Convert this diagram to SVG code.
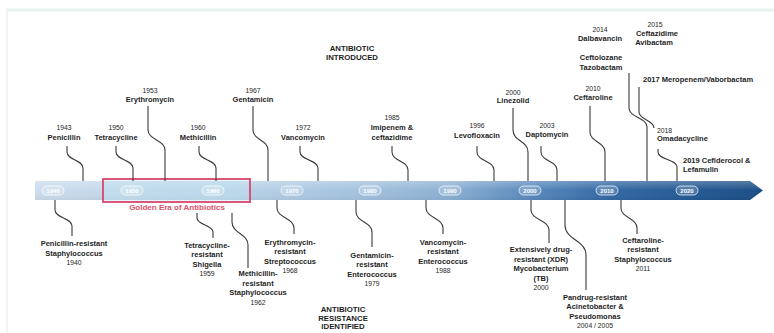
<svg xmlns="http://www.w3.org/2000/svg" width="774" height="333" viewBox="0 0 774 333">
<style>
.t{font-family:"Liberation Sans",Arial,sans-serif;font-size:7.5px;font-weight:bold;fill:#1e1e1e;text-anchor:middle}
.s{text-anchor:start}
.y{font-weight:normal;font-size:6.8px}
.h{font-size:7.8px;font-weight:bold}
.c{fill:none;stroke:#3a3a3a;stroke-width:1.1}
.pill{fill:#ffffff;fill-opacity:0.18;stroke:#ffffff;stroke-opacity:0.8;stroke-width:0.9}
.pt{font-family:"Liberation Sans",Arial,sans-serif;font-size:6px;font-weight:bold;fill:#ffffff;text-anchor:middle}
.g{font-family:"Liberation Sans",Arial,sans-serif;font-size:8px;font-weight:bold;fill:#e0506a;text-anchor:middle}
</style>
<defs>
<linearGradient id="bar" gradientUnits="userSpaceOnUse" x1="35" y1="0" x2="763" y2="0">
<stop offset="0" stop-color="#cbdcec"/>
<stop offset="0.3" stop-color="#b7d0e6"/>
<stop offset="0.45" stop-color="#a3c2de"/>
<stop offset="0.57" stop-color="#8cb0d3"/>
<stop offset="0.68" stop-color="#5a8abd"/>
<stop offset="0.79" stop-color="#3369a3"/>
<stop offset="0.9" stop-color="#245a93"/>
<stop offset="1" stop-color="#1c4e86"/>
</linearGradient>
<linearGradient id="gloss" x1="0" y1="0" x2="0" y2="1">
<stop offset="0" stop-color="#ffffff" stop-opacity="0.25"/>
<stop offset="0.5" stop-color="#ffffff" stop-opacity="0"/>
<stop offset="1" stop-color="#000000" stop-opacity="0.05"/>
</linearGradient>
</defs>
<rect width="774" height="333" fill="#ffffff"/>
<line x1="6" y1="10" x2="774" y2="10" stroke="#e6f2ef" stroke-width="3"/>
<line x1="7" y1="10" x2="7" y2="333" stroke="#eef6f4" stroke-width="2"/>

<g id="timeline">
<polygon points="35,181 750,181 763,190.5 750,200 35,200" fill="url(#bar)"/>
<polygon points="35,181 750,181 763,190.5 750,200 35,200" fill="url(#gloss)"/>
<rect x="103" y="179" width="147" height="23" fill="#bfe6f2" fill-opacity="0.35" stroke="#d8466c" stroke-width="1.8"/>
<text class="g" x="177" y="210">Golden Era of Antibiotics</text>
<g id="years">
<rect class="pill" x="42" y="186" width="22" height="9" rx="4.5"/><text class="pt" x="53" y="192.6">1940</text>
<rect class="pill" x="121" y="186" width="22" height="9" rx="4.5"/><text class="pt" x="132" y="192.6">1950</text>
<rect class="pill" x="202" y="186" width="22" height="9" rx="4.5"/><text class="pt" x="213" y="192.6">1960</text>
<rect class="pill" x="281" y="186" width="22" height="9" rx="4.5"/><text class="pt" x="292" y="192.6">1970</text>
<rect class="pill" x="359" y="186" width="22" height="9" rx="4.5"/><text class="pt" x="370" y="192.6">1980</text>
<rect class="pill" x="439" y="186" width="22" height="9" rx="4.5"/><text class="pt" x="450" y="192.6">1990</text>
<rect class="pill" x="519" y="186" width="22" height="9" rx="4.5"/><text class="pt" x="530" y="192.6">2000</text>
<rect class="pill" x="596" y="186" width="22" height="9" rx="4.5"/><text class="pt" x="607" y="192.6">2010</text>
<rect class="pill" x="676" y="186" width="22" height="9" rx="4.5"/><text class="pt" x="687" y="192.6">2020</text>
</g>
</g>

<g id="headers">
<text class="t h" x="352" y="51">ANTIBIOTIC</text>
<text class="t h" x="352" y="60">INTRODUCED</text>
<text class="t h" x="343" y="312">ANTIBIOTIC</text>
<text class="t h" x="343" y="320.5">RESISTANCE</text>
<text class="t h" x="343" y="329">IDENTIFIED</text>
</g>

<g id="connectors">
<path class="c" d="M67,146 V152 C67,160 83,160 83,168 V181"/>
<path class="c" d="M116,146 V152 C116,160 133,160 133,168 V181"/>
<path class="c" d="M148,106 V130 C148,140 165,140 165,150 V181"/>
<path class="c" d="M199,146 V152 C199,160 216,160 216,168 V181"/>
<path class="c" d="M253,106 V130 C253,140 268,140 268,150 V181"/>
<path class="c" d="M300,146 V152 C300,160 318,160 318,168 V181"/>
<path class="c" d="M392,146 V152 C392,161 408,161 408,170 V181"/>
<path class="c" d="M477,146 V152 C477,161 494,161 494,170 V181"/>
<path class="c" d="M513,108 V130 C513,141 528,141 528,152 V181"/>
<path class="c" d="M541,146 V152 C541,161 557,161 557,170 V181"/>
<path class="c" d="M590,106 V132 C590,142 605,142 605,152 V181"/>
<path class="c" d="M629,73 V108 C629,117.5 647,117.5 647,127 V181"/>
<path class="c" d="M639,87 V112 C639,120 654,120 654,128"/>
<path class="c" d="M658,149 V152 C658,159.5 677,159.5 677,167 V181"/>
<path class="c" d="M55,200 V210 C55,218 72,218 72,226 V236"/>
<path class="c" d="M197,213 V218 C197,225 213,225 213,232 V238"/>
<path class="c" d="M232,213 V222 C232,233.5 248,233.5 248,245 V268"/>
<path class="c" d="M277,200 V208 C277,218 294,218 294,228 V234"/>
<path class="c" d="M356,200 V212 C356,222 372,222 372,232 V247"/>
<path class="c" d="M426,200 V208 C426,218 443,218 443,228 V234"/>
<path class="c" d="M531,200 V210 C531,220 549,220 549,230 V243"/>
<path class="c" d="M565,200 V225 C565,240 586,240 586,255 V290"/>
<path class="c" d="M621,200 V208 C621,218 637,218 637,228 V234"/>
</g>

<g id="penicillin"><text class="t y" x="64" y="129.5">1943</text><text class="t" x="64" y="139.5">Penicillin</text></g>
<g id="tetracycline"><text class="t y" x="116" y="129.5">1950</text><text class="t" x="116" y="139.5">Tetracycline</text></g>
<g id="erythromycin"><text class="t y" x="150" y="92.5">1953</text><text class="t" x="150" y="101.5">Erythromycin</text></g>
<g id="methicillin"><text class="t y" x="198" y="129.5">1960</text><text class="t" x="198" y="139.5">Methicillin</text></g>
<g id="gentamicin"><text class="t y" x="253" y="92.5">1967</text><text class="t" x="253" y="101.5">Gentamicin</text></g>
<g id="vancomycin"><text class="t y" x="303" y="129.5">1972</text><text class="t" x="303" y="139.5">Vancomycin</text></g>
<g id="imipenem"><text class="t y" x="392" y="119.5">1985</text><text class="t" x="392" y="129.5">Imipenem &amp;</text><text class="t" x="392" y="139.5">ceftazidime</text></g>
<g id="levofloxacin"><text class="t y" x="477" y="128">1996</text><text class="t" x="477" y="138">Levofloxacin</text></g>
<g id="linezolid"><text class="t y" x="513" y="94.5">2000</text><text class="t" x="513" y="103">Linezolid</text></g>
<g id="daptomycin"><text class="t y" x="547" y="127.5">2003</text><text class="t" x="547" y="136.5">Daptomycin</text></g>
<g id="ceftaroline"><text class="t y" x="593" y="90.5">2010</text><text class="t" x="593" y="100">Ceftaroline</text></g>
<g id="dalbavancin"><text class="t y" x="600" y="31.5">2014</text><text class="t" x="600" y="40.5">Dalbavancin</text><text class="t" x="601" y="59.5">Ceftolozane</text><text class="t" x="601" y="69.5">Tazobactam</text></g>
<g id="ceftazidime-avibactam"><text class="t y" x="655" y="26.5">2015</text><text class="t" x="657" y="35.5">Ceftazidime</text><text class="t" x="654" y="44.5">Avibactam</text></g>
<g id="meropenem"><text class="t s" x="643" y="81.5">2017 Meropenem/Vaborbactam</text></g>
<g id="omadacycline"><text class="t y s" x="657" y="132.5">2018</text><text class="t s" x="657" y="141">Omadacycline</text></g>
<g id="cefiderocol"><text class="t s" x="683" y="162.5">2019 Cefiderocol &amp;</text><text class="t s" x="683" y="171.5">Lefamulin</text></g>

<g id="r-penicillin"><text class="t" x="74" y="246">Penicillin-resistant</text><text class="t" x="74" y="255.5">Staphylococcus</text><text class="t y" x="74" y="265">1940</text></g>
<g id="r-tetracycline"><text class="t" x="207" y="247.5">Tetracycline-</text><text class="t" x="207" y="257">resistant</text><text class="t" x="207" y="266.5">Shigella</text><text class="t y" x="207" y="276">1959</text></g>
<g id="r-methicillin"><text class="t" x="258" y="276">Methicillin-</text><text class="t" x="258" y="285.5">resistant</text><text class="t" x="258" y="295">Staphylococcus</text><text class="t y" x="258" y="304.5">1962</text></g>
<g id="r-erythromycin"><text class="t" x="290" y="244.5">Erythromycin-</text><text class="t" x="290" y="254">resistant</text><text class="t" x="290" y="263.5">Streptococcus</text><text class="t y" x="290" y="273">1968</text></g>
<g id="r-gentamicin"><text class="t" x="372" y="257.5">Gentamicin-</text><text class="t" x="372" y="267">resistant</text><text class="t" x="372" y="276.5">Enterococcus</text><text class="t y" x="372" y="286">1979</text></g>
<g id="r-vancomycin"><text class="t" x="443" y="244.5">Vancomycin-</text><text class="t" x="443" y="254">resistant</text><text class="t" x="443" y="263.5">Enterococcus</text><text class="t y" x="443" y="273">1988</text></g>
<g id="r-xdr"><text class="t" x="541" y="252">Extensively drug-</text><text class="t" x="541" y="261.5">resistant (XDR)</text><text class="t" x="541" y="271">Mycobacterium</text><text class="t" x="541" y="280.5">(TB)</text><text class="t y" x="541" y="290">2000</text></g>
<g id="r-pandrug"><text class="t" x="595" y="299.5">Pandrug-resistant</text><text class="t" x="595" y="309">Acinetobacter &amp;</text><text class="t" x="595" y="318.5">Pseudomonas</text><text class="t y" x="595" y="328">2004 / 2005</text></g>
<g id="r-ceftaroline"><text class="t" x="643" y="242.5">Ceftaroline-</text><text class="t" x="643" y="252">resistant</text><text class="t" x="643" y="261.5">Staphylococcus</text><text class="t y" x="643" y="271">2011</text></g>
</svg>
